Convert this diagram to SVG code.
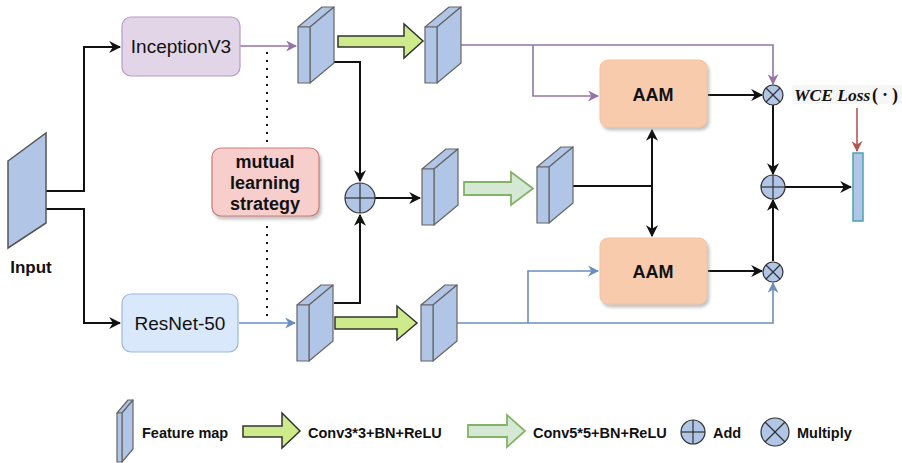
<svg xmlns="http://www.w3.org/2000/svg" width="902" height="463" viewBox="0 0 902 463">
<style>
.fm{fill:#b1c5e6;stroke:#666;stroke-width:1.2;stroke-linejoin:round}
.blk{fill:none;stroke:#111;stroke-width:2}
.pur{fill:none;stroke:#9673a6;stroke-width:1.6}
.blu{fill:none;stroke:#6c8ebf;stroke-width:1.6}
.op{fill:#b1c5e6;stroke:#333;stroke-width:1.2}
.opl{stroke:#333;stroke-width:1.2}
.t{font-family:"Liberation Sans",Arial,sans-serif;fill:#111}
.b{font-weight:bold}
.aam{fill:#f8cbad;stroke:#f3c3a3;stroke-width:1}
</style>
<defs>
<filter id="sh" x="-10%" y="-10%" width="130%" height="130%"><feDropShadow dx="2" dy="3" stdDeviation="1.5" flood-color="#888" flood-opacity="0.5"/></filter>
<marker id="ap" viewBox="0 0 10 10" refX="9" refY="5" markerWidth="11" markerHeight="11" markerUnits="userSpaceOnUse" orient="auto"><path d="M0,0 L10,5 L0,10 L3,5 z" fill="#9673a6"/></marker>
<marker id="ab" viewBox="0 0 10 10" refX="9" refY="5" markerWidth="11" markerHeight="11" markerUnits="userSpaceOnUse" orient="auto"><path d="M0,0 L10,5 L0,10 L3,5 z" fill="#6c8ebf"/></marker>
<marker id="ar" viewBox="0 0 10 10" refX="9" refY="5" markerWidth="11" markerHeight="11" markerUnits="userSpaceOnUse" orient="auto"><path d="M0,0 L10,5 L0,10 L3,5 z" fill="#b85450"/></marker>
<marker id="ak2" viewBox="0 0 10 10" refX="9" refY="5" markerWidth="12" markerHeight="12" markerUnits="userSpaceOnUse" orient="auto-start-reverse"><path d="M0,0 L10,5 L0,10 L3,5 z" fill="#111"/></marker>
<g id="fmshape">
<path class="fm" d="M0,20 L24,0 L36,0 L12,20 Z"/>
<path class="fm" d="M12,20 L36,0 L36,56 L12,76 Z"/>
<rect class="fm" x="0" y="20" width="12" height="56"/>
</g>
</defs>
<rect width="902" height="463" fill="#fff"/>

<g id="connectors">
<polyline class="blk" points="46,191 84,191 84,47 120,47" marker-end="url(#ak2)"/>
<polyline class="blk" points="46,209 84,209 84,323 120,323" marker-end="url(#ak2)"/>
<line class="pur" x1="240" y1="46" x2="296" y2="46" marker-end="url(#ap)"/>
<line class="blu" x1="239" y1="323" x2="295" y2="323" marker-end="url(#ab)"/>
<line x1="267" y1="52" x2="267" y2="148" stroke="#111" stroke-width="2" stroke-dasharray="2 6"/>
<line x1="267" y1="226" x2="267" y2="322" stroke="#111" stroke-width="2" stroke-dasharray="2 6"/>
<polyline class="blk" points="334,62 360,62 360,181" marker-end="url(#ak2)"/>
<polyline class="blk" points="334,303 360,303 360,215" marker-end="url(#ak2)"/>
<line class="blk" x1="375" y1="198" x2="420" y2="198" marker-end="url(#ak2)"/>
<polyline class="pur" points="461,45 773,45 773,84" marker-end="url(#ap)"/>
<polyline class="pur" points="533,45 533,96 598,96" marker-end="url(#ap)"/>
<polyline class="blu" points="457,323 773,323 773,283" marker-end="url(#ab)"/>
<polyline class="blu" points="528,323 528,271 598,271" marker-end="url(#ab)"/>
<line class="blk" x1="573" y1="186" x2="652" y2="186"/>
<line class="blk" x1="652" y1="130" x2="652" y2="236" marker-start="url(#ak2)" marker-end="url(#ak2)"/>
<line class="blk" x1="708" y1="95" x2="762" y2="95" marker-end="url(#ak2)"/>
<line class="blk" x1="708" y1="271" x2="762" y2="271" marker-end="url(#ak2)"/>
<line class="blk" x1="773" y1="105" x2="773" y2="174" marker-end="url(#ak2)"/>
<line class="blk" x1="773" y1="261" x2="773" y2="200" marker-end="url(#ak2)"/>
<line class="blk" x1="785" y1="187" x2="851" y2="187" marker-end="url(#ak2)"/>
<line x1="857" y1="108" x2="857" y2="151" stroke="#b85450" stroke-width="1.6" marker-end="url(#ar)"/>
</g>

<g id="input">
<path d="M8,161 L46,133 L46,223 L8,248 Z" fill="#b1c5e6" stroke="#555" stroke-width="1.5"/>
<text class="t b" x="31" y="273" font-size="17" text-anchor="middle">Input</text>
</g>

<g id="inception">
<rect x="122" y="17" width="118" height="59" rx="9" fill="#e1d5e7" stroke="#b89ac6" stroke-width="1.2"/>
<text class="t" x="181" y="53" font-size="19" text-anchor="middle" fill="#222">InceptionV3</text>
</g>

<g id="resnet">
<rect x="122" y="294" width="116" height="58" rx="9" fill="#dae8fc" stroke="#9bb7de" stroke-width="1.2"/>
<text class="t" x="180" y="330" font-size="19" text-anchor="middle" fill="#222">ResNet-50</text>
</g>

<g id="mutual">
<rect x="212" y="148" width="107" height="68" rx="9" fill="#f8cecc" stroke="#d07a76" stroke-width="1.2" filter="url(#sh)"/>
<text class="t b" x="265" y="168" font-size="18" text-anchor="middle">mutual</text>
<text class="t b" x="265" y="189" font-size="18" text-anchor="middle">learning</text>
<text class="t b" x="265" y="210" font-size="18" text-anchor="middle">strategy</text>
</g>

<g id="fm1"><use href="#fmshape" transform="translate(298,7)"/></g>
<g id="fm2"><use href="#fmshape" transform="translate(425,7)"/></g>
<g id="fm3"><use href="#fmshape" transform="translate(422,149)"/></g>
<g id="fm4"><use href="#fmshape" transform="translate(537,147)"/></g>
<g id="fm5"><use href="#fmshape" transform="translate(297,285)"/></g>
<g id="fm6"><use href="#fmshape" transform="translate(421,285)"/></g>

<g id="conv3top"><polygon points="338,36 404,36 404,24 423,41 404,58 404,47 338,47" fill="#cdeb8b" stroke="#333" stroke-width="1.5"/></g>
<g id="conv3bot"><polygon points="335,317 397,317 397,306 417,323 397,340 397,329 335,329" fill="#cdeb8b" stroke="#333" stroke-width="1.5"/></g>
<g id="conv5mid"><polygon points="464,182 511,182 511,172 533,188.5 511,205 511,195 464,195" fill="#d5e8d4" stroke="#82b366" stroke-width="1.8"/></g>

<g id="add1">
<circle class="op" cx="360" cy="198" r="15"/>
<line class="opl" x1="345" y1="198" x2="375" y2="198"/><line class="opl" x1="360" y1="183" x2="360" y2="213"/>
</g>

<g id="aam1">
<rect class="aam" x="600" y="60" width="107" height="67" rx="8" filter="url(#sh)"/>
<text class="t b" x="653" y="101" font-size="18" text-anchor="middle">AAM</text>
</g>
<g id="aam2">
<rect class="aam" x="600" y="238" width="107" height="66" rx="8" filter="url(#sh)"/>
<text class="t b" x="653" y="278" font-size="18" text-anchor="middle">AAM</text>
</g>

<g id="mul1">
<circle class="op" cx="773" cy="95" r="10"/>
<line class="opl" x1="766" y1="88" x2="780" y2="102"/><line class="opl" x1="780" y1="88" x2="766" y2="102"/>
</g>
<g id="mul2">
<circle class="op" cx="773" cy="272" r="10"/>
<line class="opl" x1="766" y1="265" x2="780" y2="279"/><line class="opl" x1="780" y1="265" x2="766" y2="279"/>
</g>
<g id="add2">
<circle class="op" cx="773" cy="187" r="12"/>
<line class="opl" x1="761" y1="187" x2="785" y2="187"/><line class="opl" x1="773" y1="175" x2="773" y2="199"/>
</g>

<g id="wce">
<rect x="792" y="85" width="110" height="19" fill="#f6f6f6"/>
<text x="794" y="101" font-family="'Liberation Serif','Times New Roman',serif" font-style="italic" font-weight="bold" font-size="17.5" fill="#111">WCE Loss</text>
<text x="872" y="101" font-family="'Liberation Serif','Times New Roman',serif" font-weight="bold" font-size="18" letter-spacing="4" fill="#111">(·)</text>
</g>

<g id="output"><rect x="853" y="153" width="10" height="68" fill="#b1c5e6" stroke="#4aa3b3" stroke-width="1.5"/></g>

<g id="legend">
<path class="fm" d="M117,413 L128,400 L133,400 L122,413 Z"/>
<path class="fm" d="M122,413 L133,400 L133,449 L122,462 Z"/>
<rect class="fm" x="117" y="413" width="5" height="49"/>
<text class="t b" x="142" y="438" font-size="14.5">Feature map</text>
<polygon points="243,426 282,426 282,413 300,431 282,448 282,437 243,437" fill="#cdeb8b" stroke="#333" stroke-width="1.5"/>
<text class="t b" x="308" y="438" font-size="14.5">Conv3*3+BN+ReLU</text>
<polygon points="468,425 507,425 507,415 525,431 507,447 507,437 468,437" fill="#d5e8d4" stroke="#82b366" stroke-width="1.8"/>
<text class="t b" x="533" y="438" font-size="14.5">Conv5*5+BN+ReLU</text>
<circle class="op" cx="693" cy="432" r="12"/>
<line class="opl" x1="681" y1="432" x2="705" y2="432"/><line class="opl" x1="693" y1="420" x2="693" y2="444"/>
<text class="t b" x="713" y="438" font-size="14.5">Add</text>
<circle class="op" cx="775" cy="432" r="14"/>
<line class="opl" x1="765" y1="422" x2="785" y2="442"/><line class="opl" x1="785" y1="422" x2="765" y2="442"/>
<text class="t b" x="797" y="438" font-size="14.5">Multiply</text>
</g>
</svg>
